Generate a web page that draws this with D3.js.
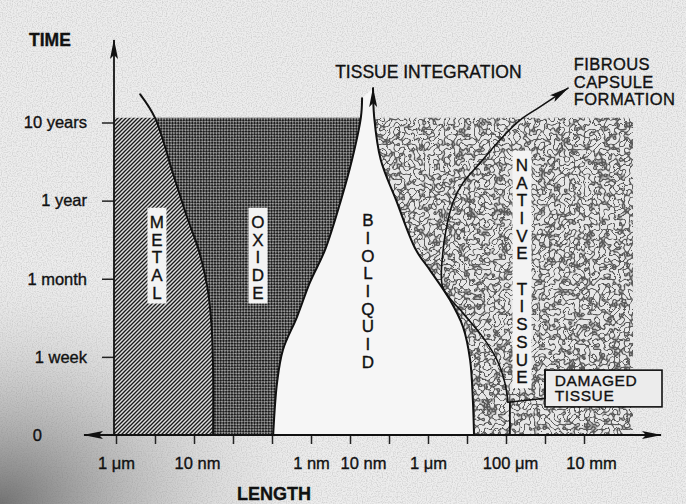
<!DOCTYPE html>
<html>
<head>
<meta charset="utf-8">
<script src="https://cdn.jsdelivr.net/npm/d3@7"></script>
<style>
body { margin: 0; background: #ededed; }
svg { display: block; font-family: "Liberation Sans", Arial, sans-serif; }
svg text { stroke: #111; stroke-width: 0.35px; }
</style>
</head>
<body>
<div id="chart"></div>
<script>
// time axis (index 0..4) and length axis (index 0..12)
var timeTicks = [1, 2, 3, 4];
var timeLabels = ["0", "1 week", "1 month", "1 year", "10 years"];
var lengthTicks = [0, 1, 2, 3, 4, 5, 6, 7, 8, 9, 10, 11, 12];
var lengthLabels = ["1 \u03bcm", "", "10 nm", "", "", "1 nm", "10 nm", "", "1 \u03bcm", "", "100 \u03bcm", "", "10 mm"];
var labelNudge = [0, 0, 3, 0, 0, 0, 13, 0, 0, 0, 4, 0, 7];

// boundaries as [length index, time index], listed top -> bottom
var metalEdge = [[0.62, 4.36], [1.0, 4.06], [1.46, 3.35], [1.82, 2.79], [2.12, 2.37], [2.34, 1.9], [2.45, 1.4], [2.49, 0.8], [2.49, 0]];
var oxideEdge = [[6.31, 4.31], [6.28, 4.07], [6.05, 3.52], [5.77, 3.01], [5.36, 2.37], [4.97, 1.95], [4.64, 1.51], [4.28, 1.09], [4.13, 0.67], [4.03, 0]];
var tissueEdge = [[6.59, 4.44], [6.62, 4.07], [6.79, 3.52], [7.18, 3.01], [7.69, 2.37], [8.05, 2.11], [8.56, 1.73], [8.9, 1.38], [9.08, 0.96], [9.15, 0.45], [9.18, 0]];
var capsuleLine = [[11.59, 4.44], [10.87, 4.2], [10.36, 4.03], [9.85, 3.78], [9.33, 3.48], [8.9, 3.23], [8.64, 2.98], [8.46, 2.62], [8.38, 2.33], [8.38, 1.89], [8.9, 1.56], [9.41, 1.25], [9.77, 0.96], [9.97, 0.67], [10.05, 0.42]];
var damagedEdge = [[10.1, 0.42], [10.1, 0]];
var calloutLine = [[10.05, 0.42], [11.0, 0.47], [11.0, 0.83]];
var damagedBox = { x0: 11.0, x1: 14.0, y0: 0.36, y1: 0.83 };
var fillTop = 4.06, fillLeft = -0.05, fillRight = 13.26;

// vertical region names: x, time of first letter
var regionNames = [
  { text: "METAL", x: 1.05, y: 2.73, box: true },
  { text: "OXIDE", x: 3.64, y: 2.73, box: true },
  { text: "BIOLIQUID", x: 6.46, y: 2.75, box: false },
  { text: "NATIVE TISSUE", x: 10.41, y: 3.46, box: true }
];

var W = 686, H = 504;
var x = d3.scaleLinear().domain([0, 12]).range([116, 584]);
var y = d3.scaleLinear().domain([0, 4]).range([435, 122.5]);

var svg = d3.select("#chart").append("svg").attr("width", W).attr("height", H);
var defs = svg.append("defs");

// paper look
var grad = defs.append("radialGradient").attr("id", "shade").attr("cx", 0).attr("cy", 1).attr("r", 0.5);
grad.append("stop").attr("offset", "0%").attr("stop-color", "#5e5e5e").attr("stop-opacity", 0.85);
grad.append("stop").attr("offset", "45%").attr("stop-color", "#8c8c8c").attr("stop-opacity", 0.4);
grad.append("stop").attr("offset", "100%").attr("stop-color", "#ededed").attr("stop-opacity", 0);

var grain = defs.append("filter").attr("id", "grain").attr("x", 0).attr("y", 0).attr("width", "100%").attr("height", "100%");
grain.append("feTurbulence").attr("type", "fractalNoise").attr("baseFrequency", 0.8).attr("numOctaves", 1).attr("seed", 4);
grain.append("feColorMatrix").attr("type", "matrix").attr("values", "0 0 0 0 0.3  0 0 0 0 0.3  0 0 0 0 0.3  0 0 0 -0.9 0.52");

// metal hatch
var hatch = defs.append("pattern").attr("id", "hatch").attr("patternUnits", "userSpaceOnUse")
  .attr("width", 4).attr("height", 4);
hatch.append("rect").attr("width", 4).attr("height", 4).attr("fill", "#dedede");
hatch.append("path").attr("d", "M-1,1 L1,-1 M0,4 L4,0 M3,5 L5,3").attr("stroke", "#1a1a1a").attr("stroke-width", 1.35);

// oxide checker
var check = defs.append("pattern").attr("id", "check").attr("patternUnits", "userSpaceOnUse")
  .attr("width", 4).attr("height", 4).attr("patternTransform", "rotate(45)");
check.append("rect").attr("width", 4).attr("height", 4).attr("fill", "#a0a0a0");
check.append("rect").attr("width", 2.2).attr("height", 2.2).attr("fill", "#1c1c1c");
check.append("rect").attr("x", 2).attr("y", 2).attr("width", 2.2).attr("height", 2.2).attr("fill", "#1c1c1c");

// tissue cells
var cells = defs.append("filter").attr("id", "cells").attr("x", 0).attr("y", 0).attr("width", "100%").attr("height", "100%");
cells.append("feTurbulence").attr("type", "turbulence").attr("baseFrequency", 0.2).attr("numOctaves", 1).attr("seed", 9);
cells.append("feColorMatrix").attr("type", "matrix").attr("values", "0 0 0 0 0.1  0 0 0 0 0.1  0 0 0 0 0.1  -7 0 0 0 1.2");

defs.append("clipPath").attr("id", "fillClip").append("rect")
  .attr("x", x(fillLeft)).attr("y", y(fillTop))
  .attr("width", x(fillRight) - x(fillLeft)).attr("height", y(0) - y(fillTop));

var arrow = defs.append("marker").attr("id", "arrow").attr("viewBox", "0 0 20 8")
  .attr("refX", 19).attr("refY", 4).attr("markerWidth", 20).attr("markerHeight", 8)
  .attr("markerUnits", "userSpaceOnUse").attr("orient", "auto-start-reverse");
arrow.append("path").attr("d", "M0,0 L20,4 L0,8 L4,4 Z").attr("fill", "#111");

svg.append("rect").attr("width", W).attr("height", H).attr("fill", "#ededed");
svg.append("rect").attr("width", W).attr("height", H).attr("filter", "url(#grain)");
svg.append("rect").attr("width", W).attr("height", H).attr("fill", "url(#shade)");

var line = d3.line().x(function(d) { return x(d[0]); }).y(function(d) { return y(d[1]); })
  .curve(d3.curveCatmullRom.alpha(0.5));
var straight = d3.line().x(function(d) { return x(d[0]); }).y(function(d) { return y(d[1]); });
function cont(pts) { return line(pts).replace(/^M/, "L"); }
function rev(pts) { return pts.slice().reverse(); }

var roof = fillTop + 0.6;
var metalPath = "M" + x(fillLeft) + "," + y(0) + "L" + x(fillLeft) + "," + y(roof) + cont(metalEdge) + "Z";
var oxidePath = line(metalEdge) + cont(rev(oxideEdge)) + "Z";
var bioPath = line(oxideEdge) + cont(rev(tissueEdge)) + "Z";
var tissuePath = line(tissueEdge) + "L" + x(fillRight) + "," + y(0) + "L" + x(fillRight) + "," + y(roof) + "Z";

var fills = svg.append("g").attr("clip-path", "url(#fillClip)");
fills.append("path").attr("d", metalPath).attr("fill", "url(#hatch)");
fills.append("path").attr("d", oxidePath).attr("fill", "url(#check)");
defs.append("clipPath").attr("id", "tissueClip").append("path").attr("d", tissuePath);
var tg = fills.append("g").attr("clip-path", "url(#tissueClip)");
tg.append("rect").attr("x", x(6)).attr("y", y(fillTop)).attr("width", x(fillRight) - x(6)).attr("height", y(0) - y(fillTop)).attr("fill", "#e6e6e6");
tg.append("rect").attr("x", x(6)).attr("y", y(fillTop)).attr("width", x(fillRight) - x(6)).attr("height", y(0) - y(fillTop)).attr("filter", "url(#cells)");
svg.append("path").attr("d", bioPath).attr("fill", "#f6f6f6");

// box over tissue
svg.append("rect").attr("x", x(damagedBox.x0)).attr("y", y(damagedBox.y1))
  .attr("width", x(damagedBox.x1) - x(damagedBox.x0)).attr("height", y(damagedBox.y0) - y(damagedBox.y1))
  .attr("fill", "#ececec").attr("stroke", "#111").attr("stroke-width", 1.6);

// boundaries
var ink = svg.append("g").attr("fill", "none").attr("stroke", "#111").attr("stroke-linecap", "round");
ink.append("path").attr("d", line(metalEdge)).attr("stroke-width", 2);
ink.append("path").attr("d", line(oxideEdge)).attr("stroke-width", 2);
ink.append("path").attr("d", line(rev(tissueEdge))).attr("stroke-width", 2).attr("marker-end", "url(#arrow)");
ink.append("path").attr("d", line(rev(capsuleLine))).attr("stroke-width", 1.6).attr("marker-end", "url(#arrow)");
ink.append("path").attr("d", straight(damagedEdge)).attr("stroke-width", 1.8);
ink.append("path").attr("d", straight(calloutLine)).attr("stroke-width", 1.6);

// region names
var step = 17.7;
regionNames.forEach(function(r) {
  var chars = r.text.split("");
  var cx = x(r.x), cy = y(r.y);
  if (r.box) {
    svg.append("rect").attr("x", cx - 9.5).attr("y", cy - 14).attr("width", 19)
      .attr("height", (chars.length - 1) * step + 25).attr("fill", "#f3f3f3");
  }
  svg.append("g").selectAll("text").data(chars).enter().append("text")
    .attr("x", cx).attr("y", function(d, i) { return cy + i * step; })
    .attr("dy", "0.36em").attr("text-anchor", "middle")
    .attr("font-size", 17).attr("fill", "#111").text(function(d) { return d; });
});

// axes
var yAxis = svg.append("g").attr("transform", "translate(114,0)")
  .call(d3.axisLeft(y).tickValues(timeTicks).tickSize(12).tickPadding(15)
    .tickFormat(function(d) { return timeLabels[d]; }));
var xAxis = svg.append("g").attr("transform", "translate(0," + y(0) + ")")
  .call(d3.axisBottom(x).tickValues(lengthTicks).tickSize(9).tickPadding(13)
    .tickFormat(function(d) { return lengthLabels[d]; }));
[yAxis, xAxis].forEach(function(a) {
  a.select(".domain").remove();
  a.selectAll("line").attr("stroke", "#222").attr("stroke-width", 1.5);
  a.selectAll("text").attr("font-family", "\"Liberation Sans\", Arial, sans-serif")
    .attr("font-size", 16.5).attr("fill", "#111");
});
xAxis.selectAll(".tick text").attr("dx", function(d) { return labelNudge[d]; });
svg.append("text").attr("x", 42).attr("y", y(0)).attr("dy", "0.36em").attr("text-anchor", "end")
  .attr("font-size", 16.5).attr("fill", "#111").text(timeLabels[0]);

svg.append("line").attr("x1", 114).attr("y1", y(0)).attr("x2", 114).attr("y2", 40)
  .attr("stroke", "#111").attr("stroke-width", 1.8).attr("marker-end", "url(#arrow)");
svg.append("line").attr("x1", 84).attr("y1", y(0)).attr("x2", 661).attr("y2", y(0))
  .attr("stroke", "#111").attr("stroke-width", 1.8)
  .attr("marker-start", "url(#arrow)").attr("marker-end", "url(#arrow)");

// titles and notes
svg.append("text").attr("x", 29).attr("y", 46).attr("font-size", 17.5).attr("font-weight", "bold").attr("fill", "#111").text("TIME");
svg.append("text").attr("x", 237).attr("y", 500).attr("font-size", 18).attr("font-weight", "bold").attr("fill", "#111").text("LENGTH");
svg.append("text").attr("x", x(5.62)).attr("y", y(4.57)).attr("font-size", 17.5).attr("fill", "#111").text("TISSUE INTEGRATION");
svg.append("g").selectAll("text").data(["FIBROUS", "CAPSULE", "FORMATION"]).enter().append("text")
  .attr("x", x(11.74)).attr("y", function(d, i) { return y(4.67) + i * 17.5; })
  .attr("font-size", 16.5).attr("letter-spacing", 0.4).attr("fill", "#111").text(function(d) { return d; });
svg.append("g").selectAll("text").data(["DAMAGED", "TISSUE"]).enter().append("text")
  .attr("x", x(11.25)).attr("y", function(d, i) { return y(0.36) - 21 + i * 15.5; })
  .attr("font-size", 15.5).attr("letter-spacing", 0.6).attr("fill", "#111").text(function(d) { return d; });
</script>
</body>
</html>
